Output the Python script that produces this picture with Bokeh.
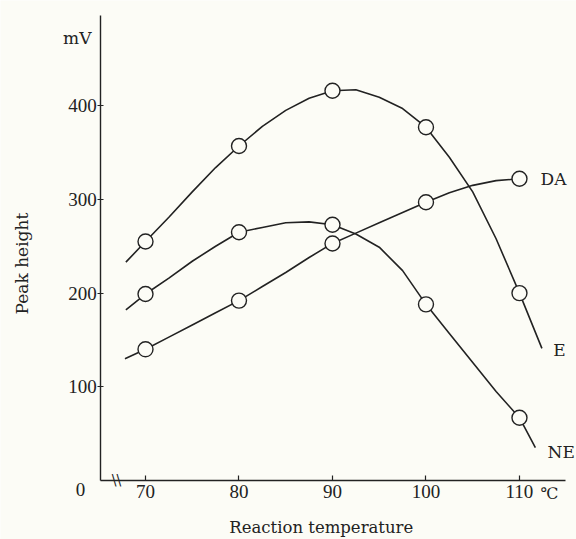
from bokeh.plotting import figure
from bokeh.models import Range1d, Label, FixedTicker
from bokeh.embed import file_html
from bokeh.resources import INLINE
import math

# ---- data ----
temps = [70, 80, 90, 100, 110]
E_vals = [255, 357, 416, 377, 200]
NE_vals = [199, 265, 273, 188, 67]
DA_vals = [140, 192, 253, 297, 322]

# traced curve positions
E_tx = [67.9, 70, 72.5, 75, 77.5, 80, 82.5, 85, 87.5, 90, 92.5, 95, 97.5, 100, 102.5, 105, 107.5, 110, 112.4]
E_ty = [233, 255, 281, 308, 334, 357, 378, 395, 408, 416, 417, 409, 397, 377, 345, 308, 258, 200, 141]
NE_tx = [67.9, 70, 72.5, 75, 77.5, 80, 82.5, 85, 87.5, 90, 92.5, 95, 97.5, 100, 102.5, 105, 107.5, 110, 111.7]
NE_ty = [182, 199, 216, 234, 250, 265, 270, 275, 276, 273, 263, 249, 224, 188, 157, 126, 95, 67, 35]
DA_tx = [67.8, 70, 72.5, 75, 77.5, 80, 82.5, 85, 87.5, 90, 92.5, 95, 97.5, 100, 102.5, 105, 107.5, 110]
DA_ty = [130, 140, 153, 166, 179, 192, 207, 222, 238, 253, 264, 275, 286, 297, 307, 315, 320, 322]

x_ticks = [70, 80, 90, 100, 110]
y_ticks = [100, 200, 300, 400]
x_axis_span = (65.2, 114.93)
y_axis_span = (0, 496.3)

BG = "#fcfcf6"
INK = "#222222"
SERIF = "DejaVu Serif"
NUM = "Liberation Serif"

p = figure(width=576, height=539, output_backend="svg", toolbar_location=None,
           x_range=Range1d(54.49, 116.10), y_range=Range1d(-62.97, 512.27),
           min_border=0, min_border_left=0, min_border_right=0,
           min_border_top=0, min_border_bottom=0)
p.background_fill_color = BG
p.border_fill_color = BG
p.outline_line_color = None
p.xgrid.visible = False
p.ygrid.visible = False

for ax in (p.xaxis[0], p.yaxis[0]):
    ax.axis_line_color = INK
    ax.axis_line_width = 1.4
    ax.major_tick_line_color = INK
    ax.major_tick_line_width = 1.2
    ax.minor_tick_line_color = None
    ax.major_label_text_font = NUM
    ax.major_label_text_font_size = "19px"
    ax.major_label_text_color = INK

p.xaxis.ticker = FixedTicker(ticks=x_ticks)
p.yaxis.ticker = FixedTicker(ticks=y_ticks)
p.xaxis.fixed_location = y_axis_span[0]
p.yaxis.fixed_location = x_axis_span[0]
p.xaxis.bounds = x_axis_span
p.yaxis.bounds = y_axis_span
p.xaxis.major_tick_in = 5
p.xaxis.major_tick_out = 0
p.xaxis.major_label_standoff = 5
p.yaxis.major_tick_in = 3
p.yaxis.major_tick_out = 3
p.yaxis.major_label_standoff = 1

line_kw = dict(line_color=INK, line_width=1.6)
p.line(E_tx, E_ty, **line_kw)
p.line(NE_tx, NE_ty, **line_kw)
p.line(DA_tx, DA_ty, **line_kw)

mk = dict(size=15, fill_color=BG, line_color=INK, line_width=1.4, marker="circle")
p.scatter(temps, E_vals, **mk)
p.scatter(temps, NE_vals, **mk)
p.scatter(temps, DA_vals, **mk)

def lab(x, y, t, font=SERIF, size="17px", align="left", angle=0, baseline="middle"):
    p.add_layout(Label(x=x, y=y, text=t, text_font=font, text_font_size=size,
                       text_color=INK, text_align=align, text_baseline=baseline,
                       angle=angle))

lab(112.25, 322, "DA")
lab(113.6, 139, "E")
lab(113.0, 30, "NE")
lab(62.7, 472, "mV", align="center")
lab(63.05, -9.6, "0", font=NUM, size="19px", align="center")
lab(113.2, -13.9, "℃", size="16px", align="center")
lab(66.9, 0, "\\\\", size="14px", align="center")
lab(88.8, -50.2, "Reaction temperature", size="16.5px", align="center")
lab(56.8, 231.5, "Peak height", align="center", angle=math.pi / 2)

open("out.html", "w").write(file_html(p, INLINE))
